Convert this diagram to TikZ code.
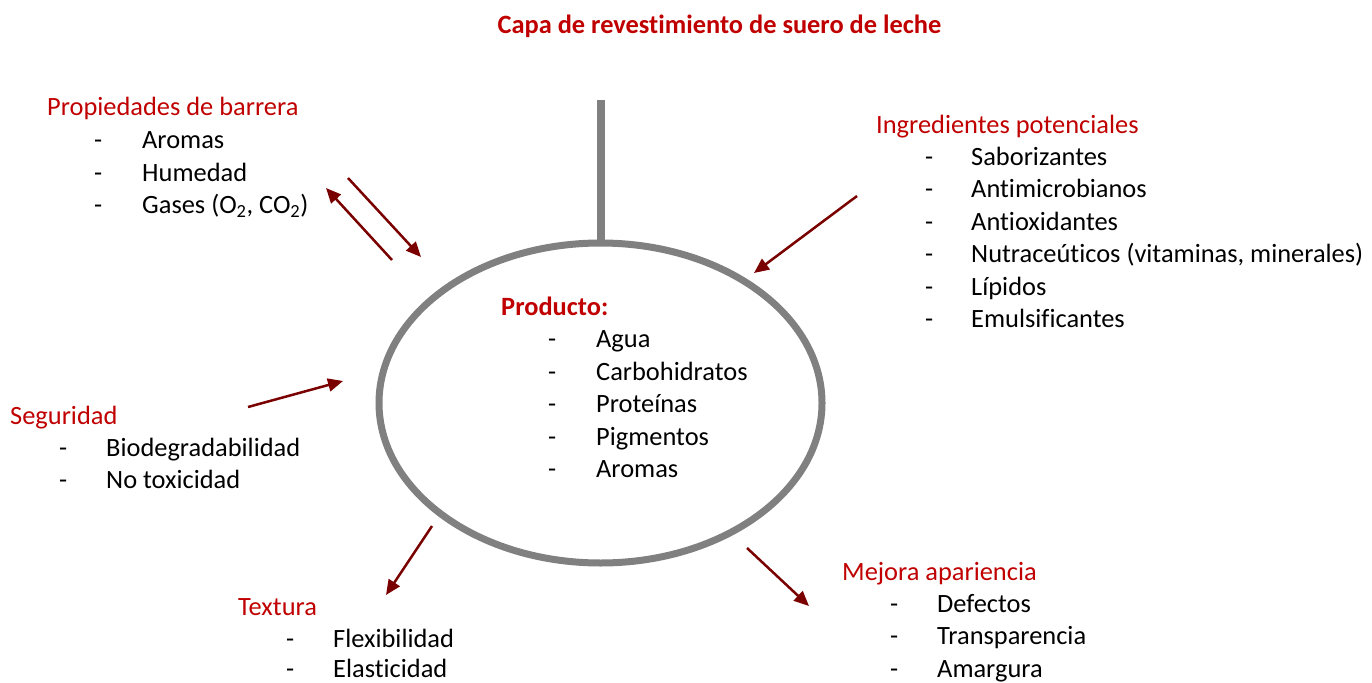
\documentclass[tikz,border=0pt]{standalone}
\usepackage{fontspec}
\setmainfont{Carlito}[RawFeature={-liga;-clig;-dlig}]
\usetikzlibrary{arrows.meta,shapes.geometric}
\definecolor{headred}{HTML}{C00000}
\definecolor{arrowred}{HTML}{7A0000}
\definecolor{ringgray}{HTML}{808080}
\begin{document}
\begin{tikzpicture}[x=1pt,y=-1pt,
  body/.style={anchor=base west,inner sep=0pt,font=\fontsize{26.4}{31}\selectfont},
  headtxt/.style={body,text=headred},
  arr/.style={draw=arrowred,line width=2.5pt,-{Triangle[length=15pt,width=13pt]}}]
\useasboundingbox (0,0) rectangle (1372,682);
% title
\node[anchor=base,inner sep=0pt,text=headred,font=\fontsize{26.4}{31}\selectfont\bfseries] (title) at (719.5,34) {Capa de revestimiento de suero de leche};
% central ellipse and stem
\node[ellipse,draw=ringgray,line width=7pt,minimum width=443pt,minimum height=320pt,inner sep=0pt] (ring) at (600.5,403) {};
\coordinate (stemtop) at (600.5,100);
\draw[ringgray,line width=8pt] (stemtop) -- (ring.north);
% Producto
\node[headtxt,font=\fontsize{26.4}{31}\selectfont\bfseries] (prod) at (501,315) {Producto:};
\node[body] (pd1) at (548,347.7) {-}; \node[body] (pt1) at (596,347.7) {Agua};
\node[body] (pd2) at (548,380.2) {-}; \node[body] (pt2) at (596,380.2) {Carbohidratos};
\node[body] (pd3) at (548,412.7) {-}; \node[body] (pt3) at (596,412.7) {Proteínas};
\node[body] (pd4) at (548,445.2) {-}; \node[body] (pt4) at (596,445.2) {Pigmentos};
\node[body] (pd5) at (548,477.7) {-}; \node[body] (pt5) at (596,477.7) {Aromas};
% Propiedades de barrera
\node[headtxt] (bar) at (47,116) {Propiedades de barrera};
\node[body] (bd1) at (94,148.5) {-}; \node[body] (bt1) at (142,148.5) {Aromas};
\node[body] (bd2) at (94,181) {-}; \node[body] (bt2) at (142,181) {Humedad};
\node[body] (bd3) at (94,213.5) {-}; \node[body] (bt3) at (142,213.5) {Gases (O\textsubscript{2}, CO\textsubscript{2})};
% Ingredientes potenciales
\node[headtxt] (ing) at (876,133) {Ingredientes potenciales};
\node[body] (id1) at (925,165) {-}; \node[body] (it1) at (971,165) {Saborizantes};
\node[body] (id2) at (925,197.5) {-}; \node[body] (it2) at (971,197.5) {Antimicrobianos};
\node[body] (id3) at (925,230) {-}; \node[body] (it3) at (971,230) {Antioxidantes};
\node[body] (id4) at (925,262.5) {-}; \node[body] (it4) at (971,262.5) {Nutraceúticos (vitaminas, minerales)};
\node[body] (id5) at (925,295) {-}; \node[body] (it5) at (971,295) {Lípidos};
\node[body] (id6) at (925,327.5) {-}; \node[body] (it6) at (971,327.5) {Emulsificantes};
% Seguridad
\node[headtxt] (seg) at (10,424) {Seguridad};
\node[body] (sd1) at (59,456) {-}; \node[body] (st1) at (106,456) {Biodegradabilidad};
\node[body] (sd2) at (59,488.5) {-}; \node[body] (st2) at (106,488.5) {No toxicidad};
% Textura
\node[headtxt] (tex) at (238,615.5) {Textura};
\node[body] (td1) at (286,647) {-}; \node[body] (tt1) at (333,647) {Flexibilidad};
\node[body] (td2) at (286,677.5) {-}; \node[body] (tt2) at (333,677.5) {Elasticidad};
% Mejora apariencia
\node[headtxt] (mej) at (842,580) {Mejora apariencia};
\node[body] (md1) at (890,612.3) {-}; \node[body] (mt1) at (937,612.3) {Defectos};
\node[body] (md2) at (890,644.8) {-}; \node[body] (mt2) at (937,644.8) {Transparencia};
\node[body] (md3) at (890,677.3) {-}; \node[body] (mt3) at (937,677.3) {Amargura};
% arrows
\coordinate (a1s) at (348,178); \coordinate (a1e) at (421,257);
\coordinate (a2s) at (392,260); \coordinate (a2e) at (326,188);
\coordinate (a3s) at (857,196); \coordinate (a3e) at (754,273);
\coordinate (a4s) at (248,407); \coordinate (a4e) at (343,381);
\coordinate (a5s) at (432,526); \coordinate (a5e) at (386,595);
\coordinate (a6s) at (747,548); \coordinate (a6e) at (809,606);
\draw[arr] (a1s) -- (a1e);
\draw[arr] (a2s) -- (a2e);
\draw[arr] (a3s) -- (a3e);
\draw[arr] (a4s) -- (a4e);
\draw[arr] (a5s) -- (a5e);
\draw[arr] (a6s) -- (a6e);
\end{tikzpicture}
\end{document}
